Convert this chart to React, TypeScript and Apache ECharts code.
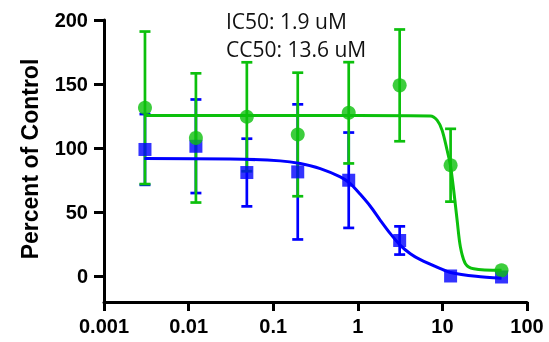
import React, { useEffect, useRef } from "react";
import * as echarts from "echarts";

// Concentrations (uM), 4-fold dilution series
const concentrations = [0.00305, 0.0122, 0.0488, 0.195, 0.781, 3.125, 12.5, 50];

// IC50 assay (blue squares): mean and SD, percent of control
const ic50Mean = [99, 101.5, 81, 81.5, 75, 28, 0.3, -0.5];
const ic50Sd = [27.6, 36.5, 26.4, 52.7, 37.2, 11, 0, 0];

// CC50 assay (green circles): mean and SD, percent of control
const cc50Mean = [131.5, 108, 124.5, 110.7, 127.6, 149, 86.7, 4.7];
const cc50Sd = [59.5, 50.4, 42.5, 48.2, 39.5, 43.6, 28.4, 0];

// Fitted curves
const ic50CurveX = [0.003, 0.031, 0.121, 0.209, 0.36, 0.621, 0.815, 1.07, 1.406, 1.846, 2.425, 3.185, 4.18, 5.49, 9.47, 12.44, 25, 50];
const ic50CurveY = [91.9, 91.6, 90.1, 88, 84.1, 77.6, 72.4, 64, 54.7, 43.75, 33.3, 24.2, 17.7, 13, 6, 3, 0, -1.5];

const cc50CurveX = [0.003, 1, 7.21, 8.65, 9.92, 11.37, 12.44, 13.6, 14.93, 16.33, 18.71, 23.46, 50];
const cc50CurveY = [125.5, 125.5, 125.2, 121.9, 114, 98.4, 86.7, 67.2, 43.75, 22.9, 9.9, 6, 4.7];

// Axis ticks
const xTickLabels = ["0.001", "0.01", "0.1", "1", "10", "100"];
const yTicks = [0, 50, 100, 150, 200];

const annotations = ["IC50: 1.9 uM", "CC50: 13.6 uM"];
const yAxisTitle = "Percent of Control";

const BLUE = "#0000FF";
const GREEN = "#0CC00C";
const AXIS_FONT = "'Liberation Sans', Arial, sans-serif";

function errorBarSeries(means: number[], sds: number[], color: string) {
  return {
    type: "custom",
    data: concentrations.map((c, i) => [c, means[i] - sds[i], means[i] + sds[i]]),
    encode: { x: 0, y: [1, 2] },
    renderItem: (params: any, api: any) => {
      const x = api.value(0);
      const lo = api.value(1);
      const hi = api.value(2);
      if (hi - lo < 0.01) return { type: "group", children: [] };
      const top = api.coord([x, hi]);
      const bot = api.coord([x, lo]);
      const hw = 5.5;
      const style = { stroke: color, lineWidth: 2.7 };
      return {
        type: "group",
        children: [
          { type: "line", shape: { x1: top[0], y1: top[1], x2: bot[0], y2: bot[1] }, style },
          { type: "line", shape: { x1: top[0] - hw, y1: top[1], x2: top[0] + hw, y2: top[1] }, style },
          { type: "line", shape: { x1: bot[0] - hw, y1: bot[1], x2: bot[0] + hw, y2: bot[1] }, style },
        ],
      };
    },
    silent: true,
  };
}

export default function App() {
  const ref = useRef<HTMLDivElement>(null);
  useEffect(() => {
    if (!ref.current) return;
    const chart = echarts.init(ref.current, null, { renderer: "svg" });
    chart.setOption({
      animation: false,
      grid: { left: 104, right: 22, top: 20, bottom: 40 },
      xAxis: {
        type: "log",
        logBase: 10,
        min: 0.001,
        max: 100,
        axisLine: { show: true, onZero: false, lineStyle: { color: "#000", width: 3 } },
        axisTick: { show: true, inside: false, length: 9, lineStyle: { color: "#000", width: 3 } },
        splitLine: { show: false },
        minorTick: { show: false },
        axisLabel: {
          margin: 14,
          color: "#000",
          fontFamily: AXIS_FONT,
          fontWeight: "bold",
          fontSize: 20,
          formatter: (v: number) => xTickLabels[Math.round(Math.log10(v)) + 3] ?? "",
        },
      },
      yAxis: {
        type: "value",
        min: -20,
        max: 200,
        axisLine: { show: true, onZero: false, lineStyle: { color: "#000", width: 3 } },
        axisTick: { show: true, inside: false, length: 10, customValues: yTicks, lineStyle: { color: "#000", width: 3 } },
        splitLine: { show: false },
        axisLabel: {
          margin: 16,
          color: "#000",
          fontFamily: AXIS_FONT,
          fontWeight: "bold",
          fontSize: 20,
          customValues: yTicks,
        },
      },
      graphic: [
        {
          type: "text",
          x: 30,
          y: 159,
          rotation: Math.PI / 2,
          style: {
            text: yAxisTitle,
            fill: "#000",
            font: `bold 23px ${AXIS_FONT}`,
            textAlign: "center",
            textVerticalAlign: "middle",
          },
        },
        {
          type: "text",
          x: 226,
          y: 21,
          style: {
            text: annotations[0],
            fill: "#111",
            font: "21px 'Open Sans', sans-serif",
            textAlign: "left",
            textVerticalAlign: "middle",
          },
        },
        {
          type: "text",
          x: 226,
          y: 49,
          style: {
            text: annotations[1],
            fill: "#111",
            font: "21px 'Open Sans', sans-serif",
            textAlign: "left",
            textVerticalAlign: "middle",
          },
        },
      ],
      series: [
        {
          type: "line",
          data: ic50CurveX.map((x, i) => [x, ic50CurveY[i]]),
          showSymbol: false,
          smooth: 0.3,
          lineStyle: { color: BLUE, width: 3 },
          silent: true,
        },
        errorBarSeries(ic50Mean, ic50Sd, BLUE),
        {
          type: "scatter",
          data: concentrations.map((c, i) => [c, ic50Mean[i]]),
          symbol: "rect",
          symbolSize: 13,
          itemStyle: { color: BLUE },
          silent: true,
        },
        {
          type: "line",
          data: cc50CurveX.map((x, i) => [x, cc50CurveY[i]]),
          showSymbol: false,
          smooth: 0.3,
          lineStyle: { color: GREEN, width: 3 },
          silent: true,
        },
        errorBarSeries(cc50Mean, cc50Sd, GREEN),
        {
          type: "scatter",
          data: concentrations.map((c, i) => [c, cc50Mean[i]]),
          symbol: "circle",
          symbolSize: 14,
          itemStyle: { color: GREEN },
          silent: true,
        },
      ],
    });
    return () => chart.dispose();
  }, []);
  return <div ref={ref} style={{ position: "fixed", left: 0, top: 0, width: 549, height: 342 }} />;
}
